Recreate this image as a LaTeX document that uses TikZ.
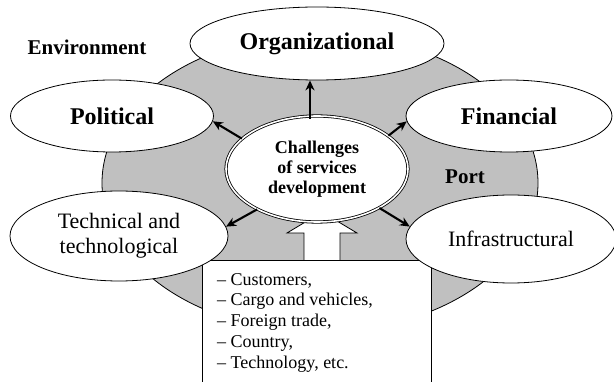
\documentclass[tikz,border=0pt]{standalone}
\usepackage{fontspec}
\setmainfont{Liberation Serif}
\usetikzlibrary{shapes.geometric,arrows.meta,calc}
\definecolor{portgray}{RGB}{192,192,192}
\begin{document}
\begin{tikzpicture}[x=1pt,y=-1pt,
  oval/.style={ellipse,draw,line width=0.8pt,fill=white,inner sep=0pt,align=center},
  bigtxt/.style={font=\fontsize{24}{26}\selectfont\bfseries},
  medtxt/.style={font=\fontsize{22}{25}\selectfont},
  lbl/.style={font=\fontsize{21}{24}\selectfont\bfseries,inner sep=0pt},
  arr/.style={line width=2.1pt,-{Stealth[length=10pt,width=9pt]}}]
\useasboundingbox (0,0) rectangle (614,382);
% port area
\node[ellipse,draw,line width=0.8pt,fill=portgray,minimum width=436pt,minimum height=298pt] (port) at (320,183) {};
% box of factors
\draw[line width=0.8pt,fill=white] (202,395) -- (202,260) -- (431,260) -- (431,395);
\node[anchor=north west,align=left,inner sep=0pt,font=\fontsize{18}{20.8}\selectfont] (list) at (217,273)
  {-- Customers,\\-- Cargo and vehicles,\\-- Foreign trade,\\-- Country,\\-- Technology, etc.};
\coordinate (boxtop) at (322,260);
% hollow block arrow
\draw[line width=0.8pt,fill=white] ($(boxtop)+(-18,0)$) -- ($(boxtop)+(-18,-27)$) -- ($(boxtop)+(-35,-27)$)
  -- ($(boxtop)+(0,-48)$) -- ($(boxtop)+(35,-27)$) -- ($(boxtop)+(18,-27)$) -- ($(boxtop)+(18,0)$);
% centre
\node[oval,double,double distance=1.6pt,minimum width=182pt,minimum height=106pt,
  font=\fontsize{18}{20}\selectfont\bfseries] (c) at (317,169) {Challenges\\of services\\development};
% outer ellipses
\node[oval,bigtxt,minimum width=254pt,minimum height=73pt] (org) at (317,43.5) {Organizational};
\node[oval,bigtxt,minimum width=203pt,minimum height=72pt] (pol) at (112,116) {Political};
\node[oval,bigtxt,minimum width=206pt,minimum height=72pt] (fin) at (509,116) {Financial};
\node[oval,medtxt,minimum width=218pt,minimum height=90pt] (tech) at (119,236) {Technical and\\technological};
\node[oval,medtxt,minimum width=210pt,minimum height=88pt] (inf) at (511,239) {Infrastructural};
% labels
\node[lbl] (env) at (87,47) {Environment};
\node[lbl] (portlbl) at (465,177) {Port};
% arrows
\draw[arr] ([xshift=-7pt,yshift=-3pt]c.north) -- ([xshift=-7pt]org.south);
\draw[arr] (c.158) -- (pol.-3);
\draw[arr] (c.25) -- (fin.183);
\draw[arr] (c.214) -- (tech.5);
\draw[arr] (c.-32) -- (inf.173);
\end{tikzpicture}
\end{document}
